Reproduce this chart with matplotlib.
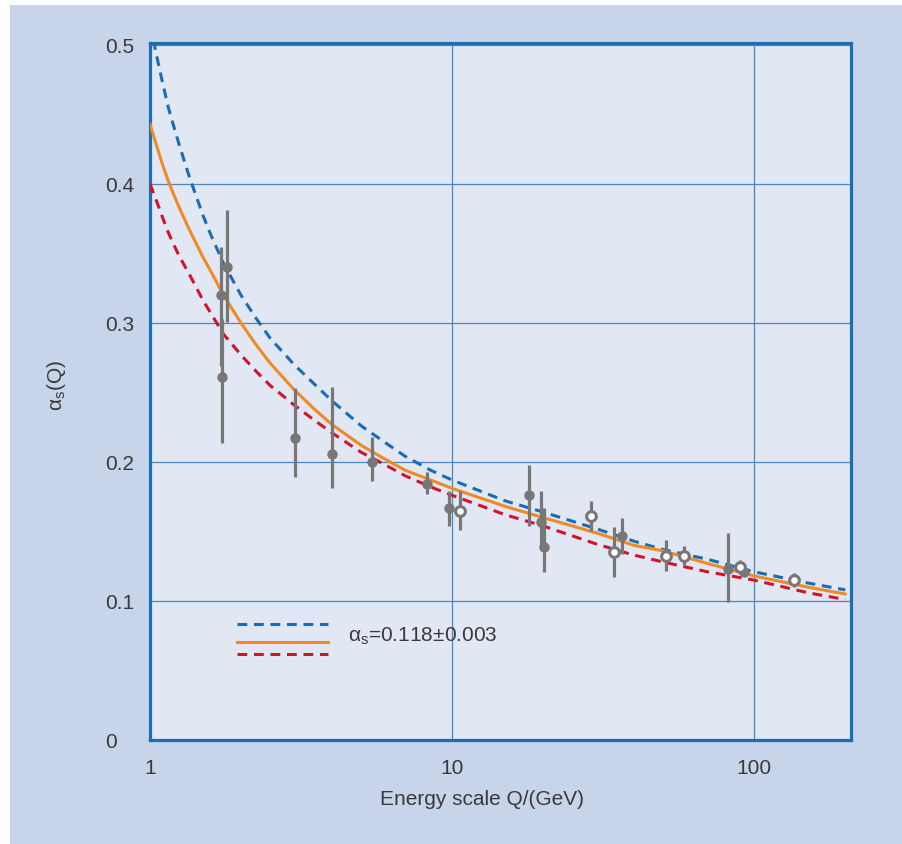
import numpy as np
import matplotlib
matplotlib.use("Agg")
import matplotlib.pyplot as plt
from matplotlib.patches import Rectangle
from matplotlib.lines import Line2D

plt.rcParams['font.family'] = ['Liberation Sans', 'DejaVu Sans']

# running coupling curves
q_curve = [1, 1.05, 1.1, 1.15, 1.2, 1.25, 1.35, 1.5, 1.6, 1.75, 2, 2.25, 2.5, 3, 3.5, 4, 5, 6, 7,
           8.5, 10, 15, 20, 30, 40, 50, 70, 100, 150, 200]
a_high = [0.515, 0.493, 0.473, 0.455, 0.441, 0.428, 0.405, 0.377, 0.362, 0.343, 0.320, 0.303,
          0.289, 0.270, 0.256, 0.244, 0.226, 0.214, 0.204, 0.194, 0.187, 0.172, 0.164, 0.152,
          0.143, 0.137, 0.130, 0.121, 0.113, 0.108]
a_mid = [0.443, 0.428, 0.414, 0.402, 0.392, 0.383, 0.367, 0.347, 0.336, 0.320, 0.300, 0.284,
         0.271, 0.252, 0.238, 0.227, 0.212, 0.202, 0.194, 0.187, 0.181, 0.168, 0.160, 0.149,
         0.140, 0.136, 0.127, 0.118, 0.110, 0.105]
a_low = [0.400, 0.388, 0.376, 0.365, 0.356, 0.348, 0.335, 0.316, 0.306, 0.292, 0.277, 0.265,
         0.255, 0.241, 0.230, 0.221, 0.207, 0.198, 0.190, 0.182, 0.176, 0.162, 0.154, 0.141,
         0.133, 0.128, 0.121, 0.115, 0.106, 0.101]

# measurements (filled and open markers)
q_fill = [1.72, 1.73, 1.80, 3.02, 4.01, 5.43, 8.25, 9.75, 18.0, 19.7, 20.2, 36.5, 81.8, 92.2]
a_fill = [0.320, 0.261, 0.340, 0.217, 0.206, 0.200, 0.184, 0.167, 0.176, 0.157, 0.139, 0.147, 0.123, 0.121]
e_fill_lo = [0.051, 0.047, 0.039, 0.028, 0.025, 0.014, 0.007, 0.013, 0.022, 0.020, 0.018, 0.013, 0.024, 0.002]
e_fill_hi = [0.035, 0.042, 0.041, 0.036, 0.048, 0.018, 0.009, 0.012, 0.022, 0.022, 0.028, 0.013, 0.026, 0.002]

q_open = [10.58, 28.8, 34.3, 51.0, 58.6, 89.4, 135.3]
a_open = [0.165, 0.161, 0.135, 0.1326, 0.1326, 0.1247, 0.115]
e_open = [0.014, 0.011, 0.018, 0.011, 0.007, 0.005, 0.005]

y_ticks = [0, 0.1, 0.2, 0.3, 0.4, 0.5]
x_ticks = [1, 10, 100]

c_blue = '#1a6db5'
c_orange = '#f08a24'
c_red = '#d0142c'
c_gray = '#777777'
c_spine = '#1a6eb4'
c_text = '#3a3a3a'

fig = plt.figure(figsize=(9.03, 8.45), dpi=100, facecolor='white')
fig.patches.append(Rectangle((10/903, 0), 1, (845-6)/845, transform=fig.transFigure,
                             facecolor='#c8d4e9', edgecolor='none', zorder=-10))
ax = fig.add_axes([150/903, 104/845, 701/903, 697/845])
ax.set_facecolor('#e1e7f3')

ax.set_xscale('log')
ax.set_xlim(1, 209)
ax.set_ylim(0, 0.5014)

ax.set_xticks(x_ticks)
ax.set_xticklabels([str(t) for t in x_ticks])
ax.xaxis.set_minor_locator(matplotlib.ticker.NullLocator())
ax.set_yticks(y_ticks)
ax.set_yticklabels(['0', '0.1', '0.2', '0.3', '0.4', '0.5'])
ax.tick_params(length=0, labelsize=15, labelcolor=c_text)
ax.tick_params(axis='x', pad=13)
ax.tick_params(axis='y', pad=32)
for lab in ax.get_yticklabels():
    lab.set_horizontalalignment('left')

ax.grid(True, color='#4a86c0', linewidth=0.9)
ax.set_axisbelow(True)
for s in ax.spines.values():
    s.set_color(c_spine)
    s.set_linewidth(2.3)

ax.plot(q_curve, a_high, color=c_blue, lw=2.2, dashes=(3.2, 2.2), zorder=3)
ax.plot(q_curve, a_mid, color=c_orange, lw=2.2, zorder=3)
ax.plot(q_curve, a_low, color=c_red, lw=2.2, dashes=(3.2, 2.2), zorder=3)

ax.errorbar(q_fill, a_fill, yerr=[e_fill_lo, e_fill_hi], fmt='o', color=c_gray,
            ms=6.5, elinewidth=2.3, capsize=0, zorder=4)
ax.errorbar(q_open, a_open, yerr=e_open, fmt='o', color=c_gray, mfc='white', mec=c_gray,
            mew=2.2, ms=7, elinewidth=2.3, capsize=0, zorder=4)

# legend drawn by hand
ax.add_line(Line2D([0.124, 0.254], [0.1664, 0.1664], transform=ax.transAxes,
                   color=c_blue, lw=2.2, dashes=(3.2, 2.2)))
ax.add_line(Line2D([0.124, 0.254], [0.1406, 0.1406], transform=ax.transAxes,
                   color=c_orange, lw=2.2))
ax.add_line(Line2D([0.124, 0.254], [0.1234, 0.1234], transform=ax.transAxes,
                   color=c_red, lw=2.2, dashes=(3.2, 2.2)))
ax.text(0.282, 0.1506, r'$\mathregular{\alpha_s}$=0.118±0.003', transform=ax.transAxes,
        fontsize=15, color=c_text, va='center', ha='left')

ax.set_xlabel('Energy scale Q/(GeV)', fontsize=15, color=c_text)
ax.xaxis.set_label_coords((482-150)/701, -0.07)
ax.set_ylabel(r'$\mathregular{\alpha_s}$(Q)', fontsize=15, color=c_text)
ax.yaxis.set_label_coords(-0.117, 0.51)

plt.savefig('out.png', dpi=100)
